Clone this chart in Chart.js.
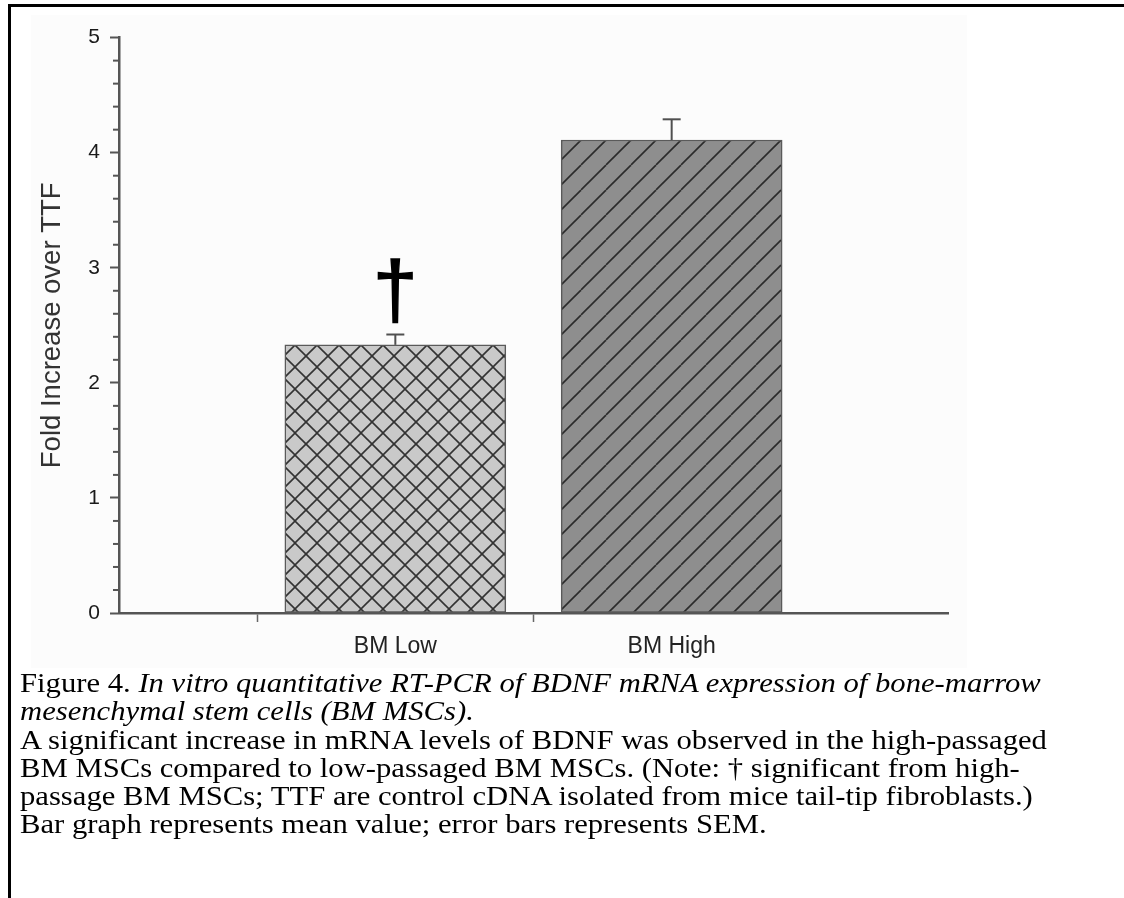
<!DOCTYPE html>
<html>
<head>
<meta charset="utf-8">
<script src="https://cdn.jsdelivr.net/npm/chart.js@4.4.1/dist/chart.umd.min.js"></script>
<style>
  html, body { margin: 0; padding: 0; background: #fff; width: 1124px; height: 898px; overflow: hidden; }
  .frame { position: absolute; left: 8px; top: 4px; width: 1140px; height: 910px;
           border-top: 3px solid #000; border-left: 3px solid #000; }
  .plot { position: absolute; left: 31px; top: 15px; width: 936px; height: 653px; background: #fcfcfc; }
  .caption { position: absolute; left: 20px; top: 669px; font-family: "Liberation Serif", "Times New Roman", serif;
             font-size: 28px; line-height: 28.3px; color: #000; white-space: nowrap;
             transform: scaleX(1.095); transform-origin: 0 0; }
  .caption i { font-style: italic; }
</style>
</head>
<body>
<div class="frame"></div>
<div class="plot"><canvas id="chart" width="936" height="653"></canvas></div>
<div class="caption">
  <div>Figure 4. <i>In vitro quantitative RT-PCR of BDNF mRNA expression of bone-marrow</i></div>
  <div><i>mesenchymal stem cells (BM MSCs).</i></div>
  <div>A significant increase in mRNA levels of BDNF was observed in the high-passaged</div>
  <div>BM MSCs compared to low-passaged BM MSCs. (Note: † significant from high-</div>
  <div>passage BM MSCs; TTF are control cDNA isolated from mice tail-tip fibroblasts.)</div>
  <div>Bar graph represents mean value; error bars represents SEM.</div>
</div>
<script>
// Fold increase of BDNF mRNA over TTF controls
const categories = ['BM Low', 'BM High'];
const meanValues = [2.33, 4.11];
const semValues = [0.09, 0.18];
const significance = ['\u2020', ''];
const yMajorTicks = [0, 1, 2, 3, 4, 5];
const yMinorStep = 0.2;
const yAxisTitle = 'Fold Increase over TTF';

const FONT = '"Liberation Sans", Arial, Helvetica, sans-serif';
Chart.defaults.font.family = FONT;

// Fill patterns: cross-hatch on light grey, single diagonal hatch on mid grey
function makePattern(size, bg, line, both) {
  const c = document.createElement('canvas');
  c.width = size; c.height = size;
  const g = c.getContext('2d');
  g.fillStyle = bg; g.fillRect(0, 0, size, size);
  g.strokeStyle = line; g.lineWidth = 1.6;
  for (const k of [-size, 0, size]) {
    g.beginPath(); g.moveTo(k, size); g.lineTo(k + size, 0); g.stroke();
    if (both) { g.beginPath(); g.moveTo(k, 0); g.lineTo(k + size, size); g.stroke(); }
  }
  return g.createPattern(c, 'repeat');
}
const ctx = document.getElementById('chart').getContext('2d');
const fills = [makePattern(22, '#c9c9c9', '#333', true), makePattern(25, '#8e8e8e', '#2b2b2b', false)];

const labels = ['', ...categories, ''];
const values = [null, ...meanValues, null];

const extrasPlugin = {
  id: 'extras',
  afterDraw(chart) {
    const { ctx } = chart;
    const xs = chart.scales.x, ys = chart.scales.y;
    ctx.save();
    // minor ticks on the value axis
    ctx.strokeStyle = '#555'; ctx.lineWidth = 2;
    for (let v = 0; v <= ys.max + 1e-9; v += yMinorStep) {
      const r = Math.round(v * 1000) / 1000;
      if (yMajorTicks.includes(r)) continue;
      const y = ys.getPixelForValue(r);
      ctx.beginPath(); ctx.moveTo(xs.left - 6, y); ctx.lineTo(xs.left, y); ctx.stroke();
    }
    // SEM error bars (upper half) and significance marks
    meanValues.forEach((m, i) => {
      const x = xs.getPixelForValue(i + 1);
      const yb = ys.getPixelForValue(m);
      const yt = ys.getPixelForValue(m + semValues[i]);
      ctx.strokeStyle = '#505050'; ctx.lineWidth = 2;
      ctx.beginPath(); ctx.moveTo(x, yb); ctx.lineTo(x, yt); ctx.stroke();
      ctx.beginPath(); ctx.moveTo(x - 9, yt); ctx.lineTo(x + 9, yt); ctx.stroke();
      if (significance[i]) {
        ctx.font = '80px ' + FONT;
        ctx.fillStyle = '#000';
        ctx.strokeStyle = '#000';
        ctx.lineWidth = 1.4;
        ctx.textAlign = 'center';
        ctx.textBaseline = 'alphabetic';
        const mt = ctx.measureText(significance[i]);
        const by = yt - 12 - mt.actualBoundingBoxDescent;
        ctx.fillText(significance[i], x, by);
        ctx.strokeText(significance[i], x, by);
      }
    });
    ctx.restore();
  }
};

new Chart(ctx, {
  type: 'bar',
  data: {
    labels,
    datasets: [{
      data: values,
      backgroundColor: c => fills[(c.dataIndex - 1 + 2) % 2],
      borderColor: '#5a5a5a',
      borderWidth: 1.5,
      borderSkipped: false,
      barThickness: 221
    }]
  },
  options: {
    responsive: false,
    animation: false,
    devicePixelRatio: 1,
    layout: { padding: { top: 19, right: 19, left: 0, bottom: 0 } },
    plugins: { legend: { display: false }, tooltip: { enabled: false } },
    scales: {
      x: {
        type: 'category',
        offset: false,
        afterFit: s => { s.height = 55; },
        grid: {
          drawOnChartArea: false, drawTicks: true, tickLength: 9,
          tickColor: c => (c.index > 0 && c.index <= categories.length) ? '#666' : 'rgba(0,0,0,0)',
          tickWidth: 1.5
        },
        border: { display: true, color: '#555', width: 2.5 },
        ticks: { color: '#222', font: { size: 23 }, padding: 11, autoSkip: false, maxRotation: 0 }
      },
      y: {
        min: 0, max: 5,
        afterFit: s => { s.width = 88; },
        afterBuildTicks: s => { s.ticks = yMajorTicks.map(v => ({ value: v })); },
        grid: { drawOnChartArea: false, drawTicks: true, tickLength: 9, tickColor: '#555', tickWidth: 2 },
        border: { display: true, color: '#555', width: 2.5 },
        ticks: { color: '#1a1a1a', font: { size: 21 }, padding: 10 },
        title: { display: true, text: yAxisTitle, color: '#333', font: { size: 27.5 }, padding: { top: 5, bottom: 0 } }
      }
    }
  },
  plugins: [extrasPlugin]
});
</script>
</body>
</html>
